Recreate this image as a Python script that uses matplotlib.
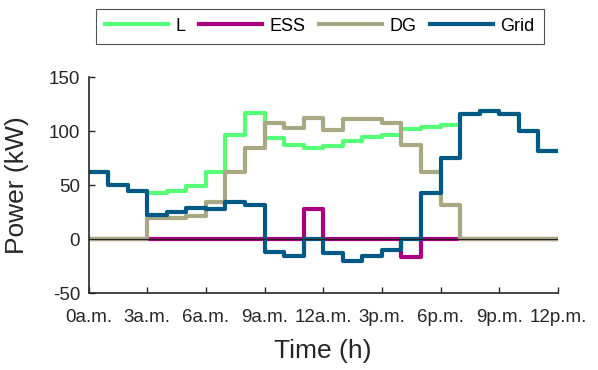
import numpy as np
import matplotlib.pyplot as plt

plt.rcParams['font.family'] = ['Liberation Sans', 'DejaVu Sans']
plt.rcParams['axes.unicode_minus'] = False  # на картинке обычный дефис "-50"

# часы суток (ступени по часу)
hours = np.arange(25)
tick_pos = [0, 3, 6, 9, 12, 15, 18, 21, 24]
tick_labels = ['0a.m.', '3a.m.', '6a.m.', '9a.m.', '12a.m.', '3p.m.', '6p.m.', '9p.m.', '12p.m.']

# мощности, кВт (значения по часам 0..23)
L = [62, 50, 45, 43, 45, 49, 62, 97, 117, 94, 87, 85,
     86, 91, 95, 97, 102, 104, 106, 116, 119, 116, 100, 82]
ESS = [0, 0, 0, 0, 0, 0, 0, 0, 0, 0, 0, 28,
       0, 0, 0, 0, -16, 0, 0, 0, 0, 0, 0, 0]
DG = [0, 0, 0, 20, 20, 22, 35, 62, 85, 108, 103, 112,
      101, 111, 111, 108, 87, 62, 32, 0, 0, 0, 0, 0]
Grid = [62, 50, 45, 23, 25, 29, 28, 35, 32, -12, -15, 0,
        -13, -20, -15, -10, 0, 43, 75, 116, 119, 116, 100, 82]


def ext(v):
    # повторяем последнее значение, чтобы ступень дошла до 24 ч
    return list(v) + [v[-1]]


fig = plt.figure(figsize=(5.98, 3.70), dpi=100)
ax = fig.add_axes([0.148, 0.207, 0.785, 0.584])

ax.step(hours, ext(L), where='post', color='#57FF78', lw=3, label='L')
ax.step(hours, ext(ESS), where='post', color='#A8007E', lw=3, label='ESS')
ax.step(hours, ext(DG), where='post', color='#A8A883', lw=3, label='DG')
ax.step(hours, ext(Grid), where='post', color='#005A85', lw=3, label='Grid')
ax.axhline(0, color='#222222', lw=0.8, zorder=5)

ax.set_xlim(0, 24)
ax.set_ylim(-50, 150)
ax.set_xticks(tick_pos)
ax.set_xticklabels(tick_labels)
ax.set_yticks([-50, 0, 50, 100, 150])
ax.tick_params(direction='in', labelsize=13.5, colors='#262626', length=4, width=1)
ax.tick_params(axis='x', pad=11)
ax.tick_params(axis='y', pad=6)
for s in ['top', 'right']:
    ax.spines[s].set_visible(False)
for s in ['left', 'bottom']:
    ax.spines[s].set_color('#262626')
    ax.spines[s].set_linewidth(1.2)

ax.set_xlabel('Time (h)', fontsize=19, color='#262626', va='center')
ax.xaxis.set_label_coords(0.5, -0.266)
ax.set_ylabel('Power (kW)', fontsize=19, color='#262626', va='center')
ax.yaxis.set_label_coords(-0.152, 0.5)

leg = fig.legend(loc='upper center', bbox_to_anchor=(0.535, 0.977), ncol=4,
                 fontsize=13, frameon=True, fancybox=False, edgecolor='#262626',
                 handlelength=3.5, handletextpad=0.4, columnspacing=0.75,
                 borderpad=0.5, borderaxespad=0)
leg.get_frame().set_linewidth(0.8)

fig.savefig('out.png', dpi=100)
